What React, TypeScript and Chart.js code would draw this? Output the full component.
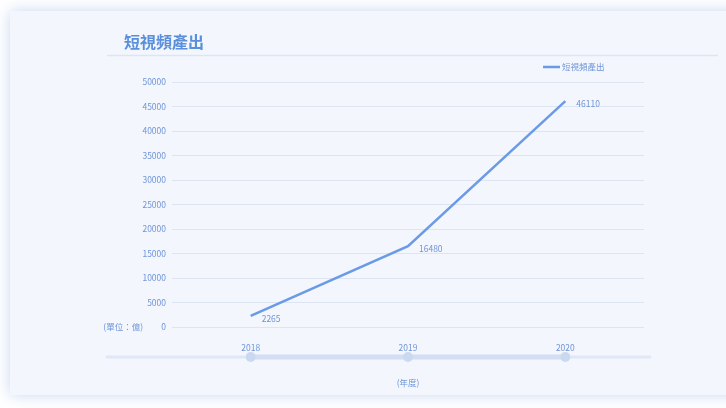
import React, { useEffect, useRef } from "react";
import { Chart, registerables } from "chart.js";

Chart.register(...registerables);

const categories = ["2018", "2019", "2020"];
const seriesName = "短視頻產出";
const values = [2265, 16480, 46110];
const yTicks = [0, 5000, 10000, 15000, 20000, 25000, 30000, 35000, 40000, 45000, 50000];
const titleText = "短視頻產出";
const unitText = "(單位：億)";
const xTitleText = "(年度)";

const BLUE = "#6b9ae6";
const TXT = "#6f95d8";
const GRID = "#dde5f3";
const FONT = "'Noto Sans CJK TC', 'Liberation Sans', sans-serif";

export default function App() {
  const ref = useRef<HTMLCanvasElement | null>(null);
  useEffect(() => {
    document.body.style.margin = "0";
    const canvas = ref.current;
    if (!canvas) return;

    const decor = {
      id: "decor",
      beforeDatasetsDraw(chart: any) {
        const ctx = chart.ctx;
        const xs = chart.scales.x;
        const ys = chart.scales.y;
        ctx.save();
        // title
        ctx.fillStyle = "#5a8fdc";
        ctx.font = `600 16px ${FONT}`;
        ctx.textBaseline = "middle";
        ctx.textAlign = "left";
        ctx.fillText(titleText, 124, 42);
        // underline
        ctx.strokeStyle = GRID;
        ctx.lineWidth = 1.5;
        ctx.beginPath();
        ctx.moveTo(107, 55.5);
        ctx.lineTo(718, 55.5);
        ctx.stroke();
        // legend
        ctx.strokeStyle = BLUE;
        ctx.lineWidth = 2.5;
        ctx.beginPath();
        ctx.moveTo(543, 67);
        ctx.lineTo(560, 67);
        ctx.stroke();
        ctx.fillStyle = TXT;
        ctx.font = `8.5px ${FONT}`;
        ctx.fillText(seriesName, 562, 67);
        // unit label
        ctx.textAlign = "right";
        ctx.fillText(unitText, 143, ys.getPixelForValue(0));
        // slider
        const y = 357;
        const first = xs.getPixelForValue(0);
        const last = xs.getPixelForValue(categories.length - 1);
        ctx.lineCap = "round";
        ctx.strokeStyle = "#e0e8f6";
        ctx.lineWidth = 3;
        ctx.beginPath();
        ctx.moveTo(107, y);
        ctx.lineTo(650, y);
        ctx.stroke();
        ctx.strokeStyle = "#d3def2";
        ctx.lineWidth = 5;
        ctx.beginPath();
        ctx.moveTo(first, y);
        ctx.lineTo(last, y);
        ctx.stroke();
        ctx.fillStyle = "#cad8f0";
        categories.forEach((_, i) => {
          const px = xs.getPixelForValue(i);
          ctx.beginPath();
          ctx.arc(px, y, 5, 0, Math.PI * 2);
          ctx.fill();
        });
        // x title
        ctx.fillStyle = TXT;
        ctx.textAlign = "center";
        ctx.font = `8.5px ${FONT}`;
        ctx.fillText(xTitleText, (xs.left + xs.right) / 2, 383);
        ctx.restore();
      },
      afterDatasetsDraw(chart: any) {
        const ctx = chart.ctx;
        const meta = chart.getDatasetMeta(0);
        ctx.save();
        ctx.fillStyle = TXT;
        ctx.font = `8.5px ${FONT}`;
        ctx.textAlign = "left";
        ctx.textBaseline = "middle";
        meta.data.forEach((pt: any, i: number) => {
          ctx.fillText(String(values[i]), pt.x + 11, pt.y + 3);
        });
        ctx.restore();
      },
    };

    const chart = new Chart(canvas, {
      type: "line",
      data: {
        labels: categories,
        datasets: [
          {
            label: seriesName,
            data: values,
            borderColor: BLUE,
            backgroundColor: BLUE,
            borderWidth: 2.5,
            pointRadius: 0,
            tension: 0,
          },
        ],
      },
      options: {
        responsive: false,
        animation: false,
        layout: { padding: { top: 82, right: 82, left: 0, bottom: 0 } },
        plugins: {
          legend: { display: false },
          title: { display: false },
          tooltip: { enabled: false },
        },
        scales: {
          x: {
            offset: true,
            grid: { display: false },
            border: { display: false },
            ticks: { color: TXT, font: { size: 8.5, family: FONT }, padding: 8 },
            afterFit: (s: any) => {
              s.height = 81;
            },
          },
          y: {
            min: 0,
            max: 50000,
            afterBuildTicks: (s: any) => {
              s.ticks = yTicks.map((v) => ({ value: v }));
            },
            grid: { color: GRID, lineWidth: 1, drawTicks: false },
            border: { display: false },
            ticks: {
              color: TXT,
              font: { size: 8.5, family: FONT },
              padding: 6,
              callback: (v: any) => String(v),
            },
            afterFit: (s: any) => {
              s.width = 172;
            },
          },
        },
      },
      plugins: [decor],
    });
    return () => chart.destroy();
  }, []);

  return (
    <div style={{ position: "relative", width: 726, height: 408, background: "#ffffff", overflow: "hidden" }}>
      <div
        style={{
          position: "absolute",
          left: 10,
          top: 11,
          width: 740,
          height: 384,
          background: "#f3f6fc",
          boxShadow: "0 0 14px rgba(150,180,230,0.5)",
        }}
      />
      <canvas ref={ref} width={726} height={408} style={{ position: "absolute", left: 0, top: 0, width: 726, height: 408 }} />
    </div>
  );
}
